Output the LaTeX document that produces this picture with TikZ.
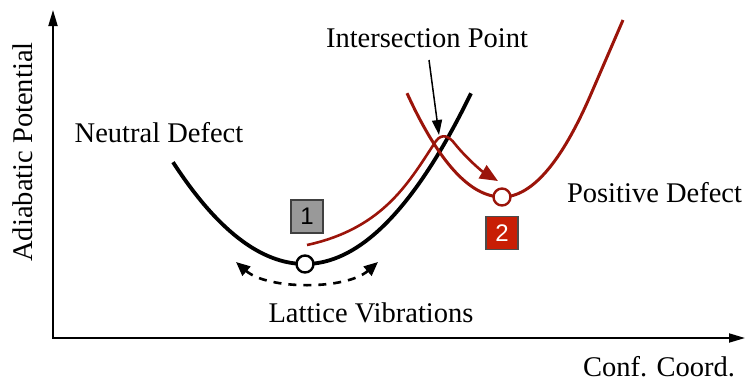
\documentclass[tikz,border=0pt]{standalone}
\usepackage{fontspec}
\setmainfont{Liberation Serif}
\newfontfamily\boxfont{Liberation Sans}
\usetikzlibrary{arrows.meta}
\definecolor{curvered}{RGB}{155,20,10}
\definecolor{boxred}{RGB}{200,30,5}
\definecolor{boxgray}{RGB}{153,153,153}
\begin{document}
\begin{tikzpicture}[x=1pt,y=-1pt,
 lbl/.style={font=\fontsize{28.5}{30}\selectfont, anchor=base, inner sep=0},
 axisline/.style={line width=1.8pt, {Triangle[length=16pt,width=9pt]}-{Triangle[length=16pt,width=9pt]}},
 state/.style={circle, draw, fill=white, line width=2.4pt, minimum size=17pt, inner sep=0},
 numbox/.style={draw, line width=1.2pt, minimum width=32pt, minimum height=33pt, inner sep=0, font=\boxfont\fontsize{24}{24}\selectfont},
 blackcurve/.style={line width=3.8pt, black},
 redcurve/.style={line width=3pt, curvered},
]
\useasboundingbox (0,0) rectangle (747,381);
% axes
\coordinate (O) at (53,338);
\coordinate (ytip) at (53,10);
\coordinate (xtip) at (745,338);
\draw[axisline] (ytip) -- (O) -- (xtip);
% labels
\node[lbl, rotate=90] (ylab) at (32,152) {Adiabatic Potential};
\node[lbl] (xlab) at (659,376) {Conf. Coord.};
\node[lbl] (ip) at (427,47) {Intersection Point};
\node[lbl] (nd) at (159,142) {Neutral Defect};
\node[lbl] (pd) at (654.5,202) {Positive Defect};
\node[lbl] (lv) at (371,322) {Lattice Vibrations};
% neutral defect curve
\draw[blackcurve] plot[domain=173:305, samples=60] (\x, {264 - 0.00585*(\x-305)*(\x-305)})
  -- plot[domain=305:471, samples=60] (\x, {264 - 0.0062*(\x-305)*(\x-305)});
% positive defect curve
\draw[redcurve] plot[domain=407:502, samples=50] (\x, {197 - 0.0115*(\x-502)*(\x-502)})
  -- plot[domain=502:590, samples=50] (\x, {197 - 0.013*(\x-502)*(\x-502)})
  -- (623,20);
% transition path
\coordinate (tp0) at (307,245);
\coordinate (tp1) at (436,141);
\coordinate (tp2) at (455,144);
\coordinate (tp3) at (498,181);
\draw[curvered, line width=2.6pt, -{Triangle[length=18pt,width=15pt]}]
  (tp0) .. controls (385,228) and (410,180) .. (tp1)
  .. controls (442,133) and (449,136) .. (tp2)
  .. controls (468,160) and (483,172) .. (tp3);
% intersection arrow
\coordinate (ipa) at (429,60);
\coordinate (ipb) at (439,135);
\draw[line width=1.5pt, -{Triangle[length=15pt,width=10pt]}] (ipa) -- (ipb);
% lattice vibrations arrow
\coordinate (lv1) at (236,262);
\coordinate (lv2) at (378,262);
\draw[line width=2.6pt, dash pattern=on 8pt off 7pt,
  {Triangle[length=14pt,width=12pt]}-{Triangle[length=14pt,width=12pt]}]
  (lv1) .. controls (268,290) and (346,290) .. (lv2);
% states
\node[state] (s1) at (305,264) {};
\node[state, draw=curvered] (s2) at (502,197) {};
\node[numbox, fill=boxgray, draw=black!75] (b1) at (307,216.5) {1};
\node[numbox, fill=boxred, draw=black!70, text=white] (b2) at (502,233) {2};
\end{tikzpicture}
\end{document}
